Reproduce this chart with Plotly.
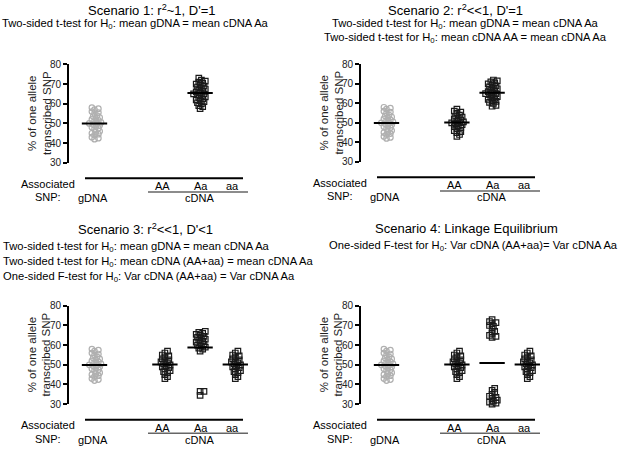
import plotly.graph_objects as go

W, H = 620, 452
FONT = "Liberation Sans, Arial, sans-serif"

# ---------------- data ----------------
gdna = [42, 42.5, 43, 44, 44.5, 45, 45.5, 46, 47, 47.5, 48, 48.5, 49, 49.5, 50,
        50, 50.5, 51, 51.5, 52, 52.5, 53, 53.5, 54, 55, 55.5, 56, 57, 57.5, 58]

s1_Aa = [57.5, 58.5, 59, 60, 60.5, 61, 61.5, 62, 62.5, 63, 63.5, 64, 64.5, 65, 65,
         65.5, 66, 66.5, 67, 67.5, 68, 68.5, 69, 69.5, 70, 70.5, 71, 71.5, 72, 73]

s2_AA = [43, 44, 45, 45.5, 46, 47, 47.5, 48, 48.5, 49, 49.5, 50, 50, 50.5, 51,
         51.5, 52, 52.5, 53, 53.5, 54, 55, 55.5, 56, 57]
s2_Aa = [58.5, 59, 60, 60.5, 61, 61.5, 62, 62.5, 63, 63.5, 64, 64.5, 65, 65, 65.5,
         66, 66.5, 67, 67.5, 68, 68.5, 69, 69.5, 70, 70.5, 71, 71.5, 72]

s3_AA = [43, 44, 45, 46, 46.5, 47, 48, 48.5, 49, 49.5, 50, 50.5, 51, 51.5, 52,
         52.5, 53, 54, 54.5, 55, 56, 57]
s3_Aa = [34.5, 36.5, 36.5, 57, 58, 58.5, 59, 59.5, 60, 60.5, 61, 61.5, 62, 62.5,
         63, 63.5, 64, 64.5, 65, 65.5, 66, 66.5, 67]
s3_aa = [43, 44, 45, 46, 46.5, 47, 48, 48.5, 49, 49.5, 50, 50.5, 51, 51.5, 52,
         52.5, 53, 54, 54.5, 55, 56, 57]

s4_AA = [43, 44, 45, 46, 46.5, 47, 48, 48.5, 49, 49.5, 50, 50.5, 51, 51.5, 52,
         52.5, 53, 54, 54.5, 55, 56, 57]
s4_Aa = [30, 30.5, 31, 31.5, 32, 33, 33.5, 34, 35, 36, 37, 38,
         64, 64.5, 65, 66, 67, 68, 69.5, 70, 71, 71.5, 72, 73]
s4_aa = [43, 44, 45, 46, 46.5, 47, 48, 48.5, 49, 49.5, 50, 50.5, 51, 51.5, 52,
         52.5, 53, 54, 54.5, 55, 56, 57]

groups = ["gDNA", "AA", "Aa", "aa"]
y_ticks = [30, 40, 50, 60, 70, 80]

titles = [
    "Scenario 1: r<sup>2</sup>~1, D'=1",
    "Scenario 2: r<sup>2</sup>&lt;&lt;1, D'=1",
    "Scenario 3: r<sup>2</sup>&lt;&lt;1, D'&lt;1",
    "Scenario 4: Linkage Equilibrium",
]
subtitles = [
    ["Two-sided t-test for H<sub>0</sub>: mean gDNA = mean cDNA Aa"],
    ["Two-sided t-test for H<sub>0</sub>: mean gDNA = mean cDNA Aa",
     "Two-sided t-test for H<sub>0</sub>: mean cDNA AA = mean cDNA Aa"],
    ["Two-sided t-test for H<sub>0</sub>: mean gDNA = mean cDNA Aa",
     "Two-sided t-test for H<sub>0</sub>: mean cDNA (AA+aa) = mean cDNA Aa",
     "One-sided F-test for H<sub>0</sub>: Var cDNA (AA+aa) = Var cDNA Aa"],
    ["One-sided F-test for H<sub>0</sub>: Var cDNA (AA+aa)= Var cDNA Aa"],
]
ylabel = "% of one allele<br>transcribed SNP"

panel_series = [
    {"gDNA": gdna, "Aa": s1_Aa},
    {"gDNA": gdna, "AA": s2_AA, "Aa": s2_Aa},
    {"gDNA": gdna, "AA": s3_AA, "Aa": s3_Aa, "aa": s3_aa},
    {"gDNA": gdna, "AA": s4_AA, "Aa": s4_Aa, "aa": s4_aa},
]

# ---------------- layout geometry ----------------
UNIT = 35.2          # px per category step
AX_OFF = 25.5        # px from y-axis line to gDNA column
XW = 181             # width of x domain in px
pos = {"gDNA": 0, "AA": 2, "Aa": 3, "aa": 4}

panels = [
    dict(ax=69, ytop=60, ybot=161),
    dict(ax=361, ytop=60, ybot=160),
    dict(ax=69, ytop=308, ybot=409),
    dict(ax=361, ytop=308, ybot=409),
]


def px(x):
    return x / W


def py(y):
    return 1 - y / H


def swarm(values, ppy, size=3.2, step=1.3):
    placed = []
    res = [0.0] * len(values)
    order = sorted(range(len(values)), key=lambda i: values[i])
    cands = [0.0]
    for j in range(1, 30):
        cands += [j * step, -j * step]
    for i in order:
        yv = values[i] * ppy
        chosen = cands[-1]
        for c in cands:
            if all((c - a) ** 2 + (yv - b) ** 2 >= size ** 2 for a, b in placed):
                chosen = c
                break
        placed.append((chosen, yv))
        res[i] = chosen / UNIT
    return res


fig = go.Figure()
layout = dict(
    width=W, height=H, margin=dict(l=0, r=0, t=0, b=0),
    paper_bgcolor="white", plot_bgcolor="white", showlegend=False,
    font=dict(family=FONT, color="black"),
)
annotations = []
shapes = []

for k, (p, series) in enumerate(zip(panels, panel_series)):
    n = "" if k == 0 else str(k + 1)
    xr = [-AX_OFF / UNIT, (XW - AX_OFF) / UNIT]
    layout["xaxis" + n] = dict(domain=[px(p["ax"]), px(p["ax"] + XW)], range=xr,
                               visible=False, fixedrange=True,
                               anchor="y" + n)
    layout["yaxis" + n] = dict(
        domain=[py(p["ybot"]), py(p["ytop"])], range=[30, 80],
        tickvals=y_ticks, ticks="outside", ticklen=4, tickwidth=1.5,
        tickcolor="black", showline=True, linewidth=2, linecolor="black",
        showgrid=False, zeroline=False, anchor="x" + n,
        tickfont=dict(size=10, color="#222", family=FONT), fixedrange=True,
    )
    ppy = (p["ybot"] - p["ytop"]) / 50.0
    for g, vals in series.items():
        offs = swarm(vals, ppy)
        xs = [pos[g] + o for o in offs]
        if g == "gDNA":
            marker = dict(symbol="circle-open", size=5.5, color="#b0b0b0",
                          line=dict(width=1.2, color="#b0b0b0"))
        else:
            marker = dict(symbol="square-open", size=5.5, color="#1a1a1a",
                          line=dict(width=1.2, color="#1a1a1a"))
        fig.add_trace(go.Scatter(x=xs, y=vals, mode="markers", marker=marker,
                                 cliponaxis=False, xaxis="x" + n, yaxis="y" + n,
                                 hoverinfo="y"))
        m = sum(vals) / len(vals)
        fig.add_trace(go.Scatter(x=[pos[g] - 0.36, pos[g] + 0.36], y=[m, m],
                                 mode="lines", line=dict(color="black", width=2),
                                 cliponaxis=False, xaxis="x" + n, yaxis="y" + n,
                                 hoverinfo="skip"))

    ax, yb = p["ax"], p["ybot"]
    # y axis title
    annotations.append(dict(text=ylabel, textangle=-90, x=px(ax - 29.5),
                            y=py((p["ytop"] + p["ybot"]) / 2), xref="paper",
                            yref="paper", showarrow=False, xanchor="center",
                            yanchor="middle", font=dict(size=11.5, color="#222")))
    # bottom bracket lines
    shapes.append(dict(type="line", xref="paper", yref="paper",
                       x0=px(ax + 16), x1=px(ax + 174), y0=py(yb + 16), y1=py(yb + 16),
                       line=dict(color="black", width=2)))
    shapes.append(dict(type="line", xref="paper", yref="paper",
                       x0=px(ax + 79), x1=px(ax + 179), y0=py(yb + 30), y1=py(yb + 30),
                       line=dict(color="#666", width=1.5)))
    bl = [("Associated", ax - 21, yb + 21.5), ("SNP:", ax - 21, yb + 35.5),
          ("gDNA", ax + 24, yb + 36.5), ("cDNA", ax + 130, yb + 36.5),
          ("AA", ax + 93, yb + 24), ("Aa", ax + 132, yb + 24),
          ("aa", ax + 163, yb + 24)]
    for t, x, y in bl:
        annotations.append(dict(text=t, x=px(x), y=py(y), xref="paper",
                                yref="paper", showarrow=False, xanchor="center",
                                yanchor="middle", font=dict(size=11)))

# titles
title_pos = [(151.5, 4), (455, 4), (145, 229), (466, 229)]
for t, (x, y) in zip(titles, title_pos):
    annotations.append(dict(text=t, x=px(x), y=py(y), xref="paper", yref="paper",
                            showarrow=False, xanchor="center", yanchor="middle",
                            font=dict(size=13)))

sub_specs = [
    [(135, 18, "center")],
    [(465, 18, "center"), (465, 33, "center")],
    [(1, 248, "left"), (1, 263, "left"), (1, 278, "left")],
    [(619.5, 246.5, "right")],
]
for subs, specs in zip(subtitles, sub_specs):
    for t, (x, y, anc) in zip(subs, specs):
        annotations.append(dict(text=t, x=px(x), y=py(y), xref="paper",
                                yref="paper", showarrow=False, xanchor=anc,
                                yanchor="middle", font=dict(size=11.2)))

layout["annotations"] = annotations
layout["shapes"] = shapes
fig.update_layout(**layout)
fig.write_html("out.html", config={"displayModeBar": False},
               post_script="document.body.style.margin='0px';document.body.style.padding='0px';")
